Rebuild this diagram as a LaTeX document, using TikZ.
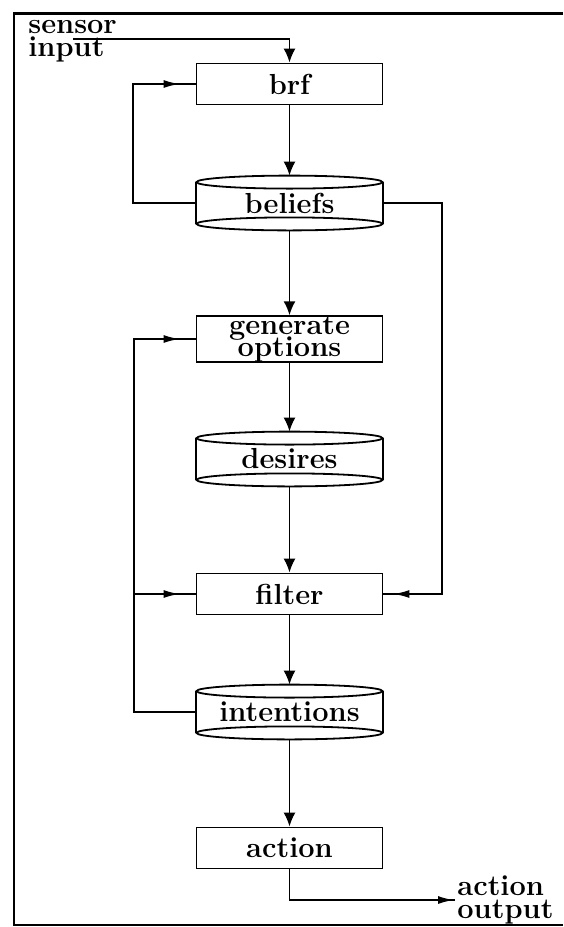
\documentclass[tikz,border=0pt]{standalone}
\usetikzlibrary{arrows.meta,decorations.markings}
\tikzset{
        every node/.style={font=\fontsize{14.5}{12}\selectfont\bfseries},
        proc/.style={draw, line width=0.9pt, rectangle, minimum width=93pt, minimum height=20.5pt, inner sep=0pt},
        store/.style={rectangle, minimum width=93pt, minimum height=27pt, inner sep=0pt},
        drum/.style={line width=0.9pt},
        flow/.style={line width=0.9pt, -{Latex[length=7pt,width=6pt]}},
        side/.style={line width=0.9pt, postaction={decorate},
          decoration={markings, mark=at position #1 with {\arrow{Latex[length=8pt,width=4pt]}}}},
        lbl/.style={align=left, inner sep=1pt, anchor=west}
          }
\begin{document}
\begin{tikzpicture}[x=0.5pt,y=-0.5pt]
            \useasboundingbox (0,0) rectangle (563,927);
            \draw[line width=1.5pt] (563,13) -- (14,13);
            \draw[line width=1pt] (14,12) -- (14,925) -- (563,925);
            \node[proc] (brf) at (289.5,84) {brf};
            \node[store] (beliefs) at (289.5,203) {beliefs};
            \node[proc, align=center] (gen) at (289.5,339) {generate\\[-3pt]options};
            \node[store] (desires) at (289.5,459) {desires};
            \node[proc] (filter) at (289.5,594) {filter};
            \node[store] (intentions) at (289.5,712) {intentions};
            \node[proc] (action) at (289.5,848) {action};
            \foreach \s in {beliefs,desires,intentions}{
              \draw[drum] ([yshift=-3.25pt]\s.north) ellipse [x radius=46.5pt, y radius=3.25pt];
              \draw[drum] ([yshift=3.25pt]\s.south) ellipse [x radius=46.5pt, y radius=3.25pt];
              \draw[drum] ([yshift=-3.25pt]\s.north west) -- ([yshift=3.25pt]\s.south west);
              \draw[drum] ([yshift=-3.25pt]\s.north east) -- ([yshift=3.25pt]\s.south east);
            }
            \node[lbl] (sensor) at (26,41) {sensor\\[-0.5pt]input};
            \node[lbl] (out) at (455,900) {action\\[-0.5pt]output};
            \coordinate (sin) at (73,39);
            \draw[flow] (sin) -| (brf.north);
            \draw[flow] (brf) -- (beliefs);
            \draw[flow] (beliefs) -- (gen);
            \draw[flow] (gen) -- (desires);
            \draw[flow] (desires) -- (filter);
            \draw[flow] (filter) -- (intentions);
            \draw[flow] (intentions) -- (action);
            \draw[side=-8pt] (beliefs.west) -- ++(-63,0) |- (brf.west);
            \draw[side=-5pt] (beliefs.east) -- ++(59,0) |- (filter.east);
            \draw[side=-8pt] (intentions.west) -- ++(-62,0) coordinate (lp) |- (gen.west);
            \draw[side=-8pt] (lp |- filter.west) -- (filter.west);
            \draw[side=-0.5pt] (action.south) |- (out.west);
\end{tikzpicture}
\end{document}
